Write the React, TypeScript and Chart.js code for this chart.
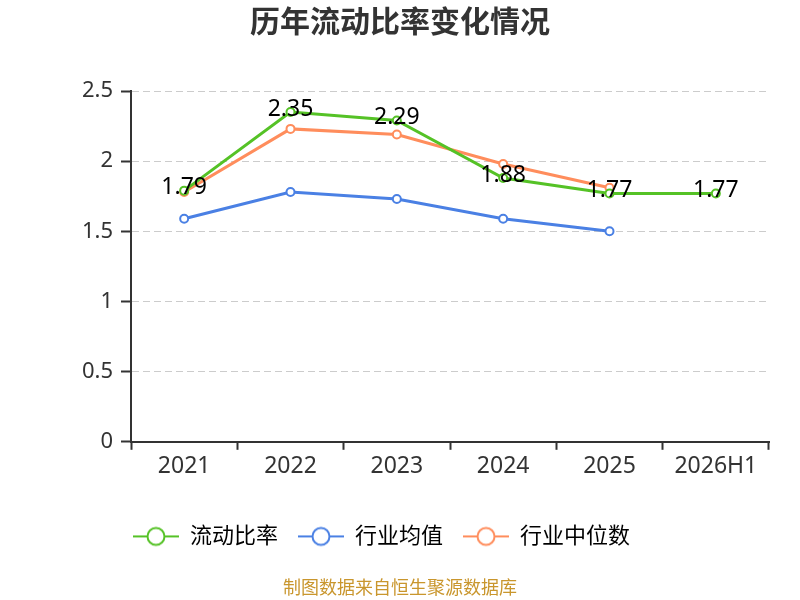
import React, { useRef, useEffect } from "react";
import { Chart, registerables } from "chart.js";

Chart.register(...registerables);

const categories = ["2021", "2022", "2023", "2024", "2025", "2026H1"];
const currentRatio = [1.79, 2.35, 2.29, 1.88, 1.77, 1.77];
const industryMean = [1.59, 1.78, 1.73, 1.59, 1.5, null];
const industryMedian = [1.78, 2.23, 2.19, 1.98, 1.81, null];
const yTicks = [0, 0.5, 1, 1.5, 2, 2.5];

const seriesNames = ["流动比率", "行业均值", "行业中位数"];
const seriesColors = ["#55c226", "#4a80e4", "#ff8d5c"];

const FONT = '"Noto Sans", "Noto Sans CJK SC", sans-serif';

// legend marker: short line with a hollow circle
function legendIcon(color: string) {
  const c = document.createElement("canvas");
  c.width = 46;
  c.height = 22;
  const g = c.getContext("2d")!;
  g.strokeStyle = color;
  g.lineWidth = 2;
  g.beginPath();
  g.moveTo(0, 11);
  g.lineTo(46, 11);
  g.stroke();
  g.beginPath();
  g.arc(23, 11, 8.5, 0, Math.PI * 2);
  g.fillStyle = "#fff";
  g.fill();
  g.stroke();
  return c;
}

const valueLabels = {
  id: "valueLabels",
  afterDatasetsDraw(chart: any) {
    const meta = chart.getDatasetMeta(0);
    const ctx = chart.ctx;
    ctx.save();
    ctx.font = `23px ${FONT}`;
    ctx.fillStyle = "#000";
    ctx.textAlign = "center";
    ctx.textBaseline = "middle";
    meta.data.forEach((pt: any, i: number) => {
      ctx.fillText(String(currentRatio[i]), pt.x, pt.y - 3);
    });
    ctx.restore();
  },
};

// title and footer are centred on the page, the legend a bit left of it
const boxShift = {
  id: "boxShift",
  afterLayout(chart: any) {
    const move = (box: any, d: number) => {
      if (box) {
        box.left += d;
        box.right += d;
      }
    };
    move(chart.titleBlock, 15.5);
    chart.boxes.forEach((b: any) => {
      if (b !== chart.titleBlock && b.options && b.options.text === "制图数据来自恒生聚源数据库") move(b, 15.5);
    });
    move(chart.legend, -3);
  },
};

const App = () => {
  const chartRef = useRef<any>(null);
  const chartInstanceRef = useRef<any>(null);

  useEffect(() => {
    document.body.style.margin = "0";
    Chart.defaults.font.family = FONT;
    const ctx = chartRef.current.getContext("2d");

    if (chartInstanceRef.current) {
      chartInstanceRef.current.destroy();
    }

    const series = [currentRatio, industryMean, industryMedian];

    chartInstanceRef.current = new Chart(ctx, {
      type: "line",
      data: {
        labels: categories,
        datasets: series.map((d, i) => ({
          label: seriesNames[i],
          data: d,
          borderColor: seriesColors[i],
          backgroundColor: seriesColors[i],
          borderWidth: 3,
          pointRadius: 4,
          pointBorderWidth: 2,
          pointBackgroundColor: "#fff",
          pointBorderColor: seriesColors[i],
          tension: 0,
        })),
      },
      options: {
        animation: false,
        responsive: true,
        maintainAspectRatio: false,
        layout: { padding: { left: 0, right: 31, top: 0, bottom: 0 } },
        plugins: {
          title: {
            display: true,
            text: "历年流动比率变化情况",
            color: "#333",
            font: { size: 30, weight: "bold" },
            padding: { top: 5, bottom: 50 },
          },
          subtitle: {
            display: true,
            position: "bottom",
            text: "制图数据来自恒生聚源数据库",
            color: "#c9962d",
            font: { size: 18 },
            padding: { top: 21, bottom: 0 },
          },
          legend: {
            position: "bottom",
            labels: {
              usePointStyle: true,
              pointStyleWidth: 46,
              color: "#333",
              font: { size: 22 },
              padding: 20,
              generateLabels: (chart: any) =>
                chart.data.datasets.map((ds: any, i: number) => ({
                  text: ds.label,
                  pointStyle: legendIcon(seriesColors[i]),
                  fillStyle: "#fff",
                  strokeStyle: seriesColors[i],
                  lineWidth: 0,
                  hidden: !chart.isDatasetVisible(i),
                  datasetIndex: i,
                })),
            },
          },
          tooltip: { enabled: false },
        },
        scales: {
          x: {
            offset: true,
            grid: {
              offset: true,
              drawOnChartArea: false,
              drawTicks: true,
              tickLength: 8,
              tickColor: "#333",
              tickWidth: 2,
            },
            border: { color: "#333", width: 2 },
            ticks: { color: "#333", font: { size: 23 }, padding: 3 },
            afterFit: (s: any) => {
              s.height += 22;
            },
          },
          y: {
            min: 0,
            max: 2.5,
            afterBuildTicks: (s: any) => {
              s.ticks = yTicks.map((v) => ({ value: v }));
            },
            grid: {
              color: "#cccccc",
              lineWidth: 1,
              tickColor: "#333",
              tickLength: 10,
              tickWidth: 2,
            },
            border: { color: "#333", width: 2, dash: [7, 4] },
            ticks: {
              color: "#333",
              font: { size: 22 },
              padding: 8,
              callback: (v: any) => String(v),
            },
            afterFit: (s: any) => {
              s.width = 131;
            },
          },
        },
      },
      plugins: [valueLabels, boxShift],
    });

    return () => {
      if (chartInstanceRef.current) {
        chartInstanceRef.current.destroy();
      }
    };
  }, []);

  return (
    <div style={{ width: 800, height: 600 }}>
      <canvas ref={chartRef} />
    </div>
  );
};

export default App;
